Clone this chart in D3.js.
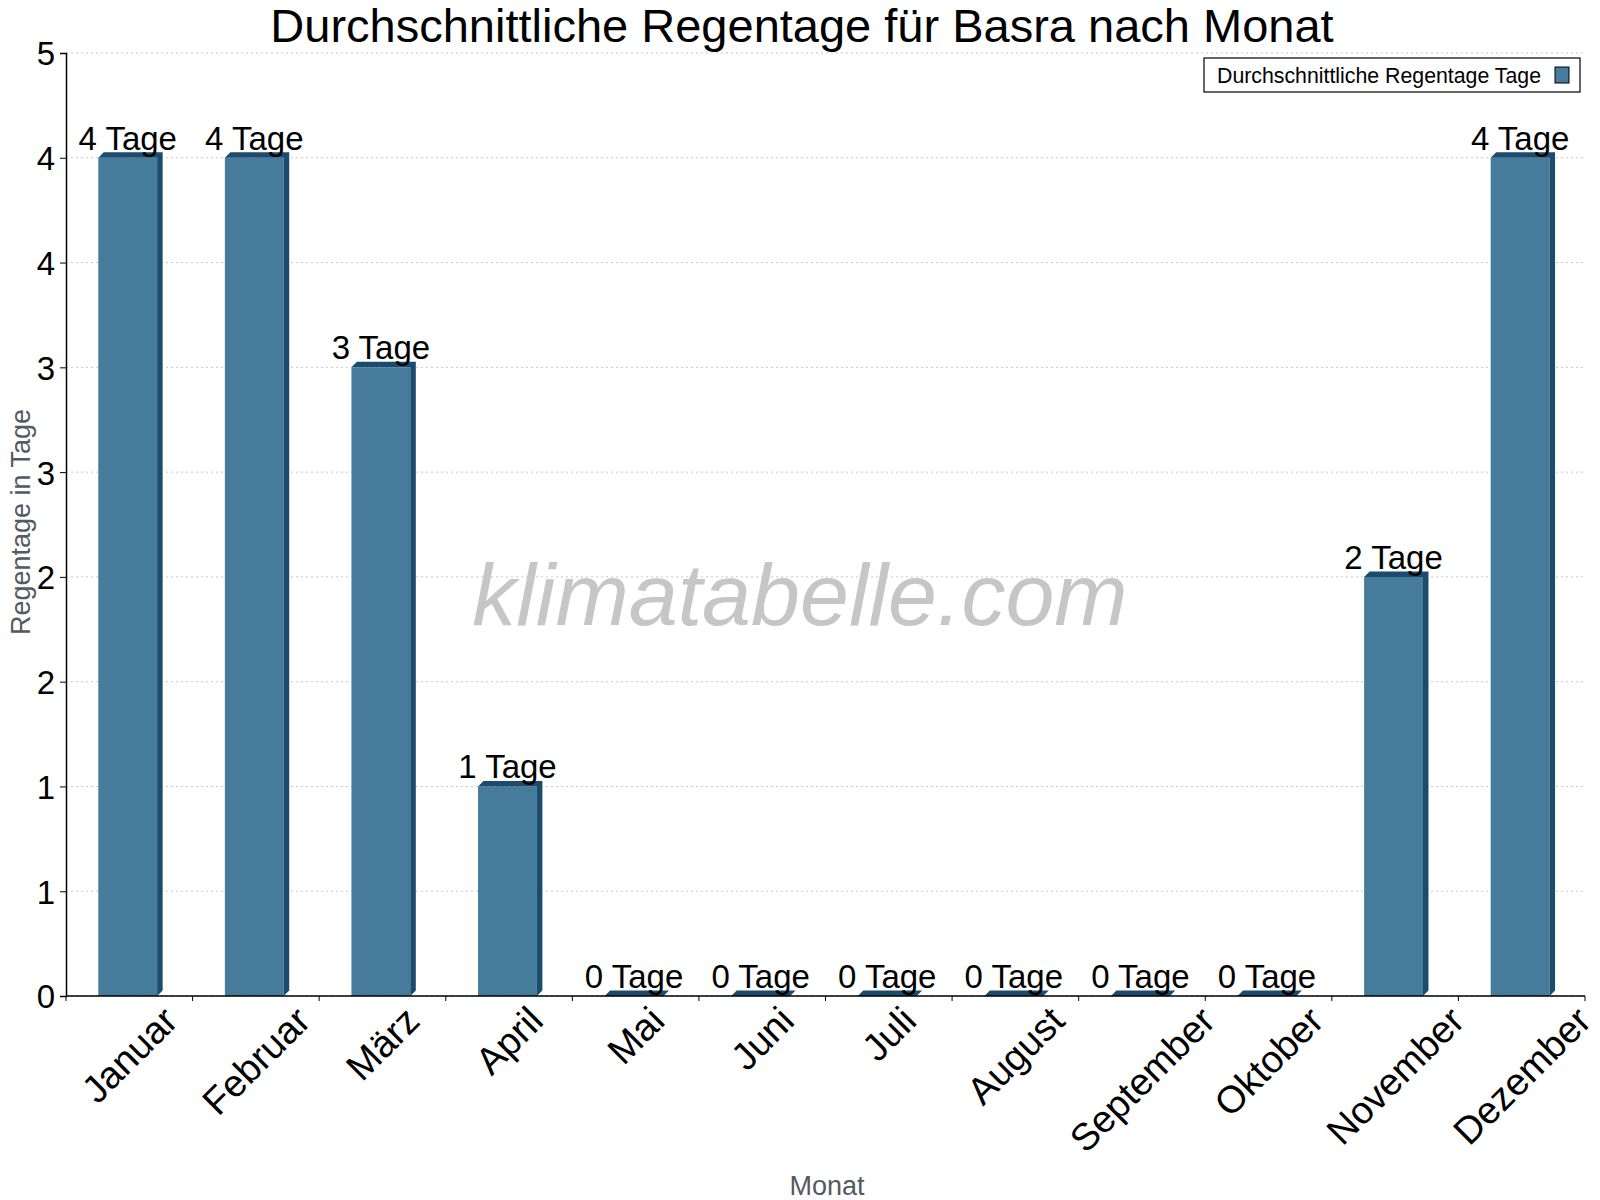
<!DOCTYPE html>
<html>
<head>
<meta charset="utf-8">
<script src="https://cdn.jsdelivr.net/npm/d3@7"></script>
<style>
  body { margin: 0; background: #fff; }
  svg { display: block; font-family: "Liberation Sans", Arial, sans-serif; }
</style>
</head>
<body>
<svg id="chart" width="1600" height="1200"></svg>
<script>
// Daten
var months = ["Januar", "Februar", "März", "April", "Mai", "Juni", "Juli", "August", "September", "Oktober", "November", "Dezember"];
var rainDays = [4, 4, 3, 1, 0, 0, 0, 0, 0, 0, 2, 4];
var yTicks = [0, 0.5, 1, 1.5, 2, 2.5, 3, 3.5, 4, 4.5];
var seriesName = "Durchschnittliche Regentage Tage";

var frontColor = "#477b9c", darkColor = "#1b4b6d";
var margin = {left: 66, right: 15, top: 53, bottom: 204};
var W = 1600, H = 1200;
var svg = d3.select("#chart");

var x = d3.scaleBand().domain(months).range([margin.left, W - margin.right]).padding(0);
var y = d3.scaleLinear().domain([0, 4.5]).range([H - margin.bottom, margin.top]);

// Titel
svg.append("text")
  .attr("x", 802).attr("y", 42)
  .attr("text-anchor", "middle")
  .style("font-size", "47px")
  .text("Durchschnittliche Regentage für Basra nach Monat");

// Gitterlinien
svg.append("g")
  .selectAll("line")
  .data(yTicks)
  .enter().append("line")
  .attr("x1", margin.left).attr("x2", W - margin.right)
  .attr("y1", d => y(d)).attr("y2", d => y(d))
  .attr("stroke", "#c8c8c8")
  .attr("stroke-dasharray", "2,3");

// Wasserzeichen
svg.append("text")
  .attr("x", 800).attr("y", 625)
  .attr("text-anchor", "middle")
  .style("font-size", "88px")
  .style("font-style", "italic")
  .attr("fill", "#c6c6c6")
  .text("klimatabelle.com");

// Balken (pseudo 3D)
var bw = x.bandwidth();
var depth = 5.5;
var frontW = bw * 0.465;
var off = bw * 0.255;

var bars = svg.append("g").selectAll("g")
  .data(months.map((m, i) => ({m: m, v: rainDays[i]})))
  .enter().append("g");

bars.append("rect")
  .attr("x", d => x(d.m) + off)
  .attr("y", d => y(d.v))
  .attr("width", frontW)
  .attr("height", d => y(0) - y(d.v))
  .attr("fill", frontColor);

// Seite + Deckel
bars.append("path")
  .attr("fill", darkColor)
  .attr("d", function(d) {
    var x0 = x(d.m) + off, x1 = x0 + frontW, yt = y(d.v), yb = y(0);
    return "M" + x0 + "," + yt +
      "L" + (x0 + depth) + "," + (yt - depth) +
      "L" + (x1 + depth) + "," + (yt - depth) +
      "L" + (x1 + depth) + "," + (yb - depth) +
      "L" + x1 + "," + yb +
      "L" + x1 + "," + yt + "Z";
  });

bars.append("text")
  .attr("x", d => x(d.m) + off + frontW / 2)
  .attr("y", d => y(d.v) - 8)
  .attr("text-anchor", "middle")
  .style("font-size", "33px")
  .text(d => d.v + " Tage");

// Y-Achse
var yAxis = svg.append("g")
  .attr("transform", "translate(" + margin.left + ",0)")
  .call(d3.axisLeft(y).tickValues(yTicks).tickSize(6).tickPadding(5)
    .tickFormat(d => Math.round(d)));
yAxis.selectAll("text").style("font-size", "33px").attr("fill", "#000").attr("dy", "0.36em");
yAxis.select(".domain").attr("stroke", "#000").attr("stroke-width", 1.5);

// X-Achse
var xAxis = svg.append("g")
  .attr("transform", "translate(0," + y(0) + ")");
xAxis.append("line")
  .attr("x1", margin.left).attr("x2", W - margin.right)
  .attr("stroke", "#000").attr("stroke-width", 1.5);
xAxis.selectAll("line.tick")
  .data(months.concat(["end"]))
  .enter().append("line")
  .attr("class", "tick")
  .attr("x1", (d, i) => margin.left + i * bw).attr("x2", (d, i) => margin.left + i * bw)
  .attr("y1", 0).attr("y2", 5)
  .attr("stroke", "#000");

// Monatsnamen: um Mitte gedreht, obere Ecke bei ~8px unter der Achse
var fs = 38;
xAxis.selectAll("text")
  .data(months)
  .enter().append("text")
  .attr("text-anchor", "middle")
  .attr("dy", "0.35em")
  .style("font-size", fs + "px")
  .text(d => d)
  .attr("transform", function(d) {
    var L = this.getComputedTextLength();
    var cy = 8 + 0.7071 * (L / 2 + 0.36 * fs);
    return "translate(" + (x(d) + bw / 2) + "," + cy + ") rotate(-45)";
  });

// Achsentitel
svg.append("text")
  .attr("x", 827).attr("y", 1195)
  .attr("text-anchor", "middle")
  .attr("fill", "#555a5f")
  .style("font-size", "27px")
  .text("Monat");
svg.append("text")
  .attr("transform", "translate(30,522) rotate(-90)")
  .attr("text-anchor", "middle")
  .attr("fill", "#555a5f")
  .style("font-size", "27px")
  .text("Regentage in Tage");

// Legende
var lg = svg.append("g").attr("transform", "translate(1204,58)");
lg.append("rect").attr("width", 376).attr("height", 34)
  .attr("fill", "#fff").attr("stroke", "#000").attr("stroke-width", 1.2);
lg.append("text").attr("x", 13).attr("y", 25).style("font-size", "21.3px").text(seriesName);
lg.append("rect").attr("x", 351).attr("y", 9).attr("width", 14).attr("height", 16)
  .attr("fill", frontColor).attr("stroke", "#000").attr("stroke-width", 1);
</script>
</body>
</html>
